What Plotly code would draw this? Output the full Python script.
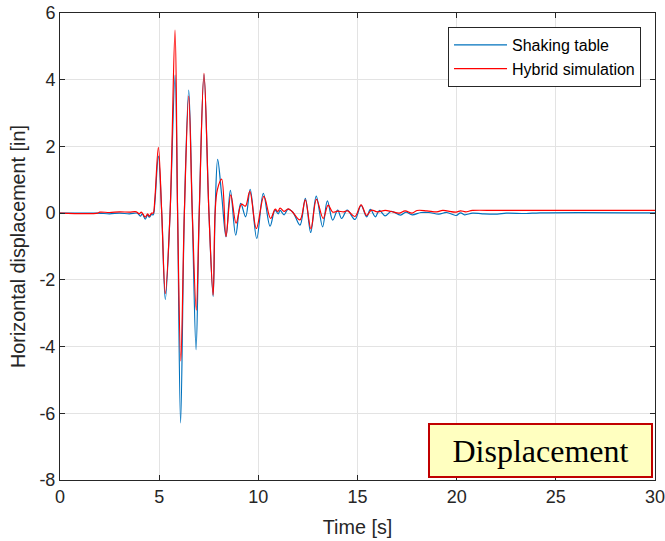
import plotly.graph_objects as go

# Shaking table (blue) - key points (time [s], displacement [in])
t_table = [0, 1.9, 2.5, 3.0, 3.5, 3.9, 4.05, 4.15, 4.3, 4.42, 4.5, 4.62, 4.7,
           4.78, 4.96, 5.13, 5.31, 5.55, 5.80, 5.93, 6.08, 6.27, 6.49, 6.67, 6.86,
           7.02, 7.26, 7.51, 7.72, 7.82, 7.95, 8.15, 8.37, 8.59, 8.86, 9.11, 9.36,
           9.59, 9.92, 10.25, 10.59, 10.84, 11.0, 11.1, 11.3, 11.5, 11.75, 12.1,
           12.37, 12.64, 12.92, 13.24, 13.48, 13.75, 14.0, 14.2, 14.48, 14.87,
           15.18, 15.46, 15.65, 15.9, 16.1, 16.39, 16.7, 17.17, 17.45, 17.76,
           18.2, 18.6, 19.1, 19.5, 19.97, 20.2, 20.4, 20.8, 21.3, 22.05, 22.5,
           23.5, 24.2, 30]
y_table = [0, 0, -0.02, 0.0, -0.02, 0.0, -0.09, -0.02, -0.18, -0.05, -0.12, -0.04, -0.05,
           0.3, 1.71, 0.0, -2.59, 0.0, 4.14, 0.0, -6.29, 0.0, 3.69, 0.0, -4.09,
           0.0, 4.15, 0.0, -2.50, 0.0, 1.61, 0.55, -0.71, 0.68, -0.66, 0.29, -0.11,
           0.71, -0.76, 0.59, -0.39, 0.09, -0.02, 0.08, -0.05, 0.12, 0.02, -0.36,
           0.44, -0.58, 0.51, -0.41, 0.37, -0.21, 0.09, -0.16, 0.09, -0.19,
           0.23, -0.11, 0.11, -0.11, 0.08, -0.08, 0.05, -0.06, 0.03, -0.05,
           0.02, 0.02, -0.03, 0.02, -0.07, 0.01, -0.05, 0.0, -0.02, -0.03, 0.0,
           -0.01, 0.01, 0.01]

# Hybrid simulation (red)
t_hybrid = [0, 1.9, 2.0, 2.5, 3.0, 3.5, 3.85, 4.0, 4.1, 4.3, 4.42, 4.5, 4.62, 4.7,
            4.78, 4.96, 5.13, 5.31, 5.55, 5.80, 5.93, 6.09, 6.27, 6.49, 6.67, 6.87,
            7.02, 7.26, 7.51, 7.72, 7.82, 7.93, 8.15, 8.37, 8.61, 8.88, 9.15, 9.35,
            9.57, 9.90, 10.28, 10.62, 10.85, 10.98, 11.1, 11.3, 11.5, 11.7, 12.1,
            12.37, 12.65, 12.93, 13.27, 13.52, 13.75, 14.0, 14.3, 14.5, 14.87,
            15.18, 15.46, 15.7, 16.0, 16.4, 16.7, 17.1, 17.4, 17.75, 18.0, 18.5,
            19.0, 19.3, 19.97, 20.2, 20.45, 20.8, 22.0, 24.0, 26.0, 28.0, 30]
y_hybrid = [0, 0, 0.03, 0.02, 0.04, 0.03, 0.04, -0.02, 0.03, -0.12, -0.02, -0.09, 0.0, 0.0,
            0.4, 1.97, 0.0, -2.41, 0.0, 5.49, 0.0, -4.43, 0.0, 3.51, 0.0, -2.91,
            0.0, 4.19, 0.0, -2.46, 0.0, 0.69, 1.02, -0.70, 0.55, -0.30, 0.27, 0.21,
            0.65, -0.46, 0.50, -0.16, 0.12, 0.05, 0.15, 0.05, 0.13, 0.05, -0.20,
            0.40, -0.47, 0.41, -0.16, 0.24, 0.03, 0.06, 0.04, 0.07, -0.10,
            0.25, -0.07, 0.09, 0.04, 0.08, 0.05, 0.0, 0.07, 0.0, 0.08, 0.07,
            0.04, 0.08, 0.03, 0.07, 0.04, 0.08, 0.08, 0.08, 0.08, 0.08, 0.08]

x_ticks = [0, 5, 10, 15, 20, 25, 30]
y_ticks = [-8, -6, -4, -2, 0, 2, 4, 6]

AX = "#262626"
FONT = "Liberation Sans"
fig = go.Figure()
fig.add_trace(go.Scatter(x=t_table, y=y_table, mode="lines", name="Shaking table",
                         line=dict(color="#0072BD", width=1.2, shape="spline", smoothing=1.0)))
fig.add_trace(go.Scatter(x=t_hybrid, y=y_hybrid, mode="lines", name="Hybrid simulation",
                         line=dict(color="#FF0000", width=1.2, shape="spline", smoothing=1.0)))

axis_common = dict(showline=True, linecolor=AX, linewidth=1, mirror="ticks",
                   ticks="inside", ticklen=5, tickcolor=AX, showgrid=True,
                   gridcolor="#E3E3E3", gridwidth=1, zeroline=False, automargin=False,
                   ticklabeloverflow="allow",
                   tickfont=dict(family=FONT, size=18, color=AX))
fig.update_xaxes(range=[0, 30], tickvals=x_ticks, ticktext=[str(v) for v in x_ticks],
                 title=dict(text="Time [s]", font=dict(family=FONT, size=19.8, color=AX),
                            standoff=14), **axis_common)
fig.update_yaxes(range=[-8, 6], tickvals=y_ticks, ticktext=[str(v) for v in y_ticks],
                 title=dict(text="Horizontal displacement [in]",
                            font=dict(family=FONT, size=19.8, color=AX), standoff=8),
                 **axis_common)

fig.update_layout(
    width=665, height=541,
    margin=dict(l=60, r=10, t=13, b=61),
    paper_bgcolor="white", plot_bgcolor="white",
    showlegend=True,
    legend=dict(x=0.9765, y=0.97, xanchor="right", yanchor="top",
                bgcolor="white", bordercolor=AX, borderwidth=1,
                font=dict(family=FONT, size=16, color="black"),
                itemwidth=53, tracegroupgap=0),
    annotations=[dict(text="Displacement", xref="paper", yref="paper",
                      x=0.8072, y=0.063, xanchor="center", yanchor="middle",
                      showarrow=False, width=221, height=51,
                      bgcolor="#FFFFC0", bordercolor="#C00000", borderwidth=2, borderpad=0,
                      font=dict(family="Liberation Serif", size=32, color="black"))],
)

fig.write_html("out.html")
